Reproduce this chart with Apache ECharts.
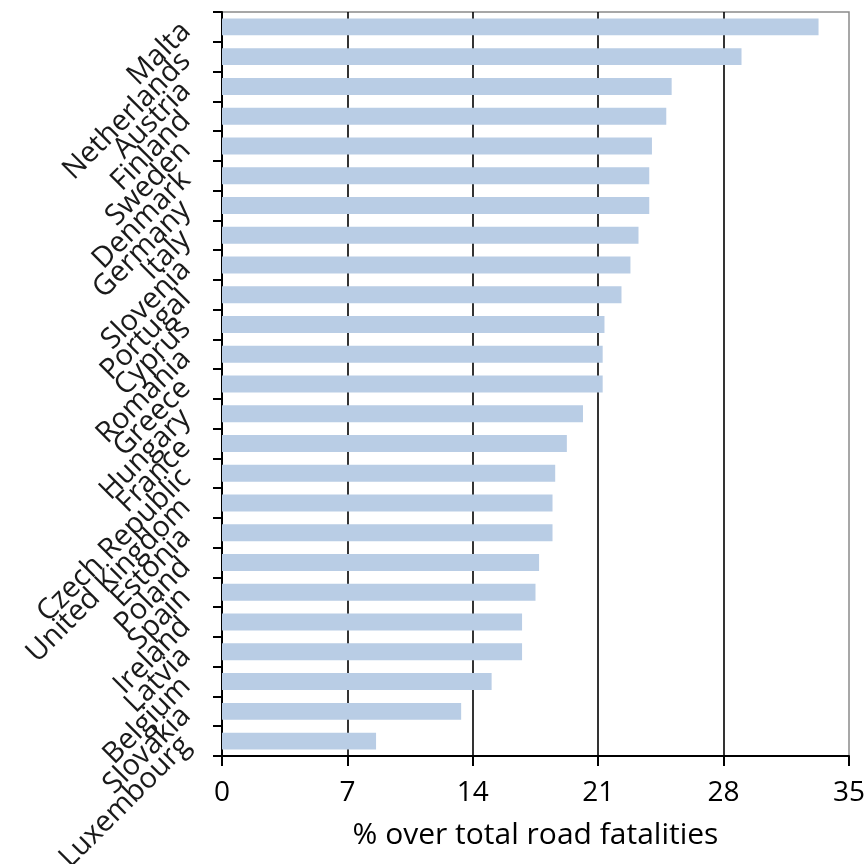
<!DOCTYPE html>
<html>
<head>
<meta charset="utf-8">
<title>Road fatalities share by country</title>
<script src="https://cdn.jsdelivr.net/npm/echarts@6/dist/echarts.min.js"></script>
<style>
  html, body { margin: 0; padding: 0; background: #ffffff; }
  #chart { width: 866px; height: 864px; }
</style>
</head>
<body>
<div id="chart"></div>
<script>
// Countries, top to bottom
const countries = [
  'Malta', 'Netherlands', 'Austria', 'Finland', 'Sweden', 'Denmark', 'Germany',
  'Italy', 'Slovenia', 'Portugal', 'Cyprus', 'Romania', 'Greece', 'Hungary',
  'France', 'Czech Republic', 'United Kingdom', 'Estonia', 'Poland', 'Spain',
  'Ireland', 'Latvia', 'Belgium', 'Slovakia', 'Luxembourg'
];

// Share of total road fatalities (%)
const shares = [
  33.3, 29.0, 25.1, 24.8, 24.0, 23.85, 23.85,
  23.25, 22.8, 22.3, 21.35, 21.25, 21.25, 20.15,
  19.25, 18.6, 18.45, 18.45, 17.7, 17.5,
  16.75, 16.75, 15.05, 13.35, 8.6
];

// Value axis ticks
const axisMin = 0;
const axisMax = 35;
const axisStep = 7;

const FONT = '"Open Sans", "Noto Sans", sans-serif';

const chart = echarts.init(document.getElementById('chart'), null, { renderer: 'canvas' });

chart.setOption({
  animation: false,
  backgroundColor: '#ffffff',
  grid: {
    left: 222,
    right: 17,
    top: 12,
    bottom: 108,
    outerBoundsMode: 'none',
    containLabel: false,
    show: true,
    borderColor: '#8a8a8a',
    borderWidth: 1.5,
    backgroundColor: 'transparent'
  },
  xAxis: {
    type: 'value',
    min: axisMin,
    max: axisMax,
    interval: axisStep,
    name: '% over total road fatalities',
    nameLocation: 'middle',
    nameGap: 64,
    nameTextStyle: { fontFamily: FONT, fontSize: 30, color: '#000' },
    axisLine: { show: true, lineStyle: { color: '#000', width: 2 } },
    axisTick: { show: true, length: 10, lineStyle: { color: '#000', width: 2 } },
    axisLabel: { fontFamily: FONT, fontSize: 28, color: '#000', margin: 23 },
    splitLine: {
      show: true,
      showMinLine: false,
      showMaxLine: false,
      lineStyle: { color: '#000', width: 1.6 }
    }
  },
  yAxis: {
    type: 'category',
    inverse: true,
    data: countries,
    axisLine: { show: true, lineStyle: { color: '#000', width: 2 } },
    axisTick: { show: true, length: 9, lineStyle: { color: '#000', width: 2 } },
    axisLabel: {
      fontFamily: FONT,
      fontSize: 29,
      color: '#1a1a1a',
      rotate: 45,
      margin: 36,
      interval: 0
    },
    splitLine: { show: false }
  },
  series: [{
    type: 'bar',
    data: shares,
    barCategoryGap: '43%',
    itemStyle: { color: '#b9cde5' }
  }]
});
</script>
</body>
</html>
